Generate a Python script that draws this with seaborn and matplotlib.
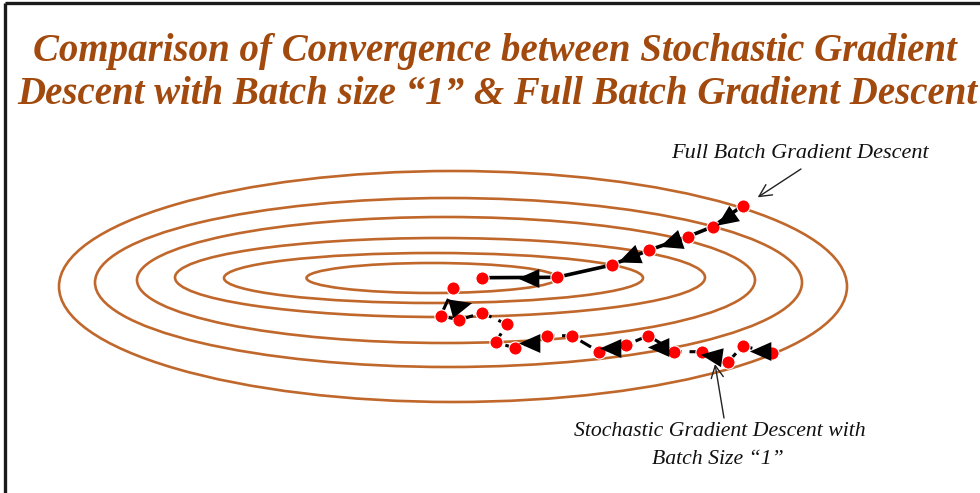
import numpy as np
import matplotlib
matplotlib.use("Agg")
import matplotlib.pyplot as plt
from matplotlib.patches import Ellipse
import seaborn as sns

# Contour rings of the loss surface (centre, full width, full height; pixel units)
ring_cx = [453, 448.5, 446, 440, 433.5, 432]
ring_cy = [286.5, 282.5, 280, 277.5, 278, 278]
ring_w = [788, 707, 618, 530, 419, 251]
ring_h = [231, 169, 126, 79, 50, 30]

# Full batch gradient descent iterates
fb_x = [742.7, 712.7, 687.7, 649.3, 611.7, 556.7, 481.7]
fb_y = [205.7, 226.7, 236.7, 250.0, 265.0, 277.3, 277.7]
fb_arrow_x = [726.7, 671.7, 630.0, 530.0]
fb_arrow_y = [218.0, 241.7, 256.7, 278.3]
fb_arrow_heading = [215, 199, 202, 180]

# Stochastic gradient descent (batch size 1) iterates
sgd_x = [771.7, 742.7, 728.3, 701.7, 674.3, 648.3, 626.0, 599.0, 571.7,
         547.3, 515.0, 496.0, 506.7, 482.3, 459.3, 440.7, 453.3]
sgd_y = [352.7, 346.0, 361.7, 351.7, 351.7, 335.7, 345.0, 351.7, 335.7,
         335.7, 348.3, 342.0, 324.3, 312.7, 320.0, 315.7, 288.3]
sgd_arrow_x = [762.0, 713.0, 660.0, 612.0, 531.0, 459.0]
sgd_arrow_y = [351.0, 356.0, 347.0, 348.0, 343.0, 306.0]
sgd_arrow_heading = [180, 172, 180, 180, 180, 15]

title_lines = ["Comparison of Convergence between Stochastic Gradient",
               "Descent with Batch size \u201c1\u201d & Full Batch Gradient Descent"]
fb_label = "Full Batch Gradient Descent"
sgd_label = ["Stochastic Gradient Descent with", "Batch Size \u201c1\u201d"]

RING = "#C0672C"
TITLE = "#A2490E"
DOT = "#FF0000"

sns.set_theme(style="white")
plt.rcParams["font.family"] = ["Liberation Serif", "DejaVu Serif"]

fig = plt.figure(figsize=(9.8, 4.93), dpi=100)
ax = fig.add_axes([0, 0, 1, 1])
ax.set_xlim(0, 980)
ax.set_ylim(493, 0)
ax.axis("off")

# frame on the top and left edges
ax.plot([5, 5], [493, 3], color="#1a1a1a", lw=2.4, solid_capstyle="butt")
ax.plot([5, 980], [3, 3], color="#1a1a1a", lw=2.4, solid_capstyle="butt")

for cx, cy, w, h in zip(ring_cx, ring_cy, ring_w, ring_h):
    ax.add_patch(Ellipse((cx, cy), w, h, fill=False, ec=RING, lw=1.9, zorder=1))


def arrow_marker(heading):
    """Isoceles triangle pointing along heading (degrees, counter-clockwise)."""
    base = np.array([[1.0, 0.0], [-0.7, 0.75], [-0.7, -0.75], [1.0, 0.0]])
    t = np.deg2rad(heading)
    rot = np.array([[np.cos(t), -np.sin(t)], [np.sin(t), np.cos(t)]])
    return base @ rot.T


# paths
sns.lineplot(x=fb_x, y=fb_y, sort=False, estimator=None, color="black",
             lw=2.6, ax=ax, zorder=2)
sns.lineplot(x=sgd_x, y=sgd_y, sort=False, estimator=None, color="black",
             lw=2.2, linestyle=(0, (4, 2.5)), ax=ax, zorder=2)

# iterates
sns.scatterplot(x=fb_x + sgd_x, y=fb_y + sgd_y, color=DOT, s=90,
                edgecolor="white", linewidth=0.8, ax=ax, zorder=3)

# direction arrowheads
for x, y, hd in zip(fb_arrow_x + sgd_arrow_x, fb_arrow_y + sgd_arrow_y,
                    fb_arrow_heading + sgd_arrow_heading):
    ax.scatter([x], [y], marker=arrow_marker(hd), s=330, color="black",
               linewidths=0, zorder=4)

# title
ax.text(495, 52, title_lines[0], ha="center", va="center", fontsize=28,
        fontweight="bold", fontstyle="italic", color=TITLE)
ax.text(497, 95, title_lines[1], ha="center", va="center", fontsize=28,
        fontweight="bold", fontstyle="italic", color=TITLE)

# annotations
ax.text(800, 153, fb_label, ha="center", va="center", fontsize=16,
        fontstyle="italic", color="#111111")
ax.annotate("", xy=(757.7, 197.3), xytext=(801, 169),
            arrowprops=dict(arrowstyle="->", color="#222222", lw=1.0,
                            mutation_scale=22, shrinkA=0, shrinkB=0))
ax.annotate("", xy=(715, 364), xytext=(724, 418),
            arrowprops=dict(arrowstyle="->", color="#222222", lw=1.0,
                            mutation_scale=22, shrinkA=0, shrinkB=0))
ax.text(720, 432, sgd_label[0], ha="center", va="center", fontsize=15.7,
        fontstyle="italic", color="#111111")
ax.text(718, 460, sgd_label[1], ha="center", va="center", fontsize=15.7,
        fontstyle="italic", color="#111111")

fig.savefig("out.png", dpi=100, facecolor="white")
